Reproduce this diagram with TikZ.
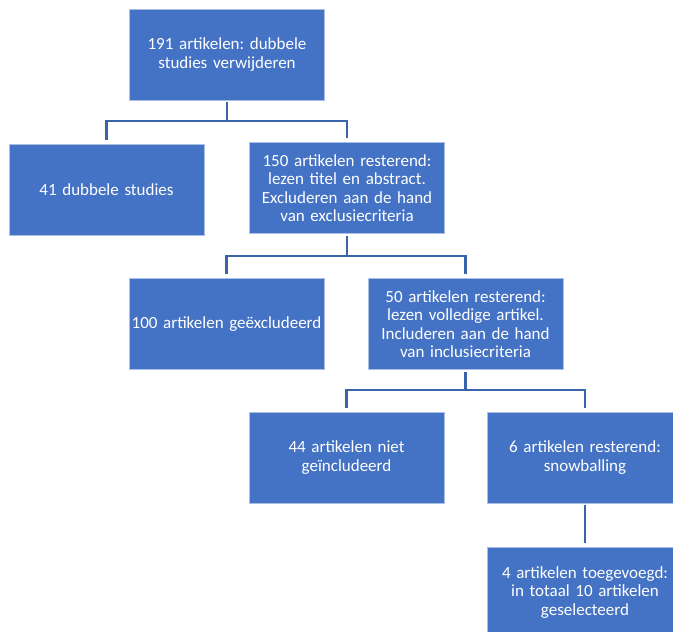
\documentclass[tikz,border=0pt]{standalone}
\usepackage{fontspec}
\setmainfont{Carlito}
\frenchspacing
\definecolor{boxblue}{HTML}{4472C4}
\definecolor{boxedge}{HTML}{A9BFE6}
\definecolor{linkblue}{HTML}{3B64A8}
\begin{document}
\begin{tikzpicture}[x=1pt,y=-1pt,
    font=\fontsize{17}{18.5}\selectfont,
    stap/.style={rectangle,fill=boxblue,draw=boxedge,line width=0.6pt,
        text=white,minimum width=195pt,minimum height=91pt,
        text width=193pt,inner sep=1pt,align=center},
    link/.style={draw=linkblue,line width=2.3pt,shorten <=2pt,shorten >=4pt}]
    \useasboundingbox (0,0) rectangle (673,632);
    \clip (0,0) rectangle (673,632);

    \node[stap] (start) at (227,54.5) {191 artikelen: dubbele\\studies verwijderen};
    \node[stap] (dubbel) at (106.5,190) {41 dubbele studies};
    \node[stap] (titel) at (347,188) {150 artikelen resterend:\\lezen titel en abstract.\\Excluderen aan de hand\\van exclusiecriteria};
    \node[stap] (excl) at (226.5,324) {100 artikelen geëxcludeerd};
    \node[stap] (vol) at (465.5,324) {50 artikelen resterend:\\lezen volledige artikel.\\Includeren aan de hand\\van inclusiecriteria};
    \node[stap] (niet) at (346.5,457.5) {44 artikelen niet\\geïncludeerd};
    \node[stap] (snow) at (585,457.5) {6 artikelen resterend:\\snowballing};
    \node[stap] (totaal) at (585,592.5) {4 artikelen toegevoegd:\\in totaal 10 artikelen\\geselecteerd};

    \draw[link] (start.south) -- ++(0,21) -| (dubbel.north);
    \draw[link] (start.south) -- ++(0,21) -| (titel.north);
    \draw[link] (titel.south) -- ++(0,22) -| (excl.north);
    \draw[link] (titel.south) -- ++(0,22) -| (vol.north);
    \draw[link] (vol.south) -- ++(0,20) -| (niet.north);
    \draw[link] (vol.south) -- ++(0,20) -| (snow.north);
    \draw[link] (snow.south) -- (totaal.north);
\end{tikzpicture}
\end{document}
